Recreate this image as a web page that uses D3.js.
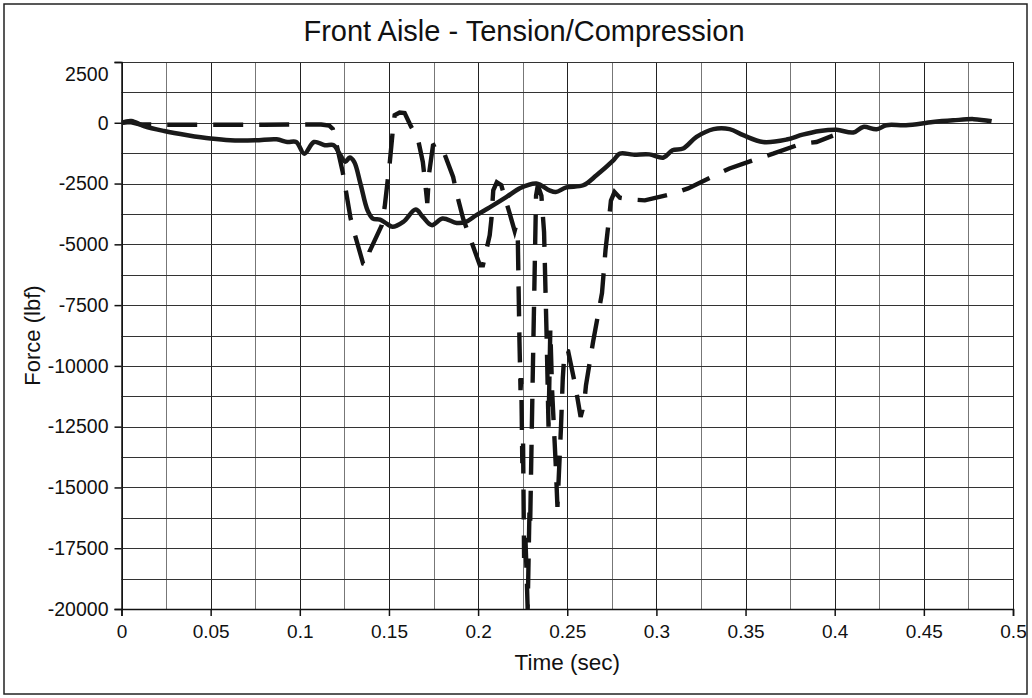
<!DOCTYPE html>
<html>
<head>
<meta charset="utf-8">
<script src="https://cdn.jsdelivr.net/npm/d3@7"></script>
<style>
  html, body { margin: 0; padding: 0; background: #fff; }
  svg { display: block; }
  text { font-family: Arial, "Liberation Sans", Helvetica, sans-serif; fill: #111; }
</style>
</head>
<body>
<svg id="chart" width="1032" height="698"></svg>
<script>
// ---------- data ----------
const chartTitle = "Front Aisle - Tension/Compression";
const xTitle = "Time (sec)";
const yTitle = "Force (lbf)";

const xTickValues = [0, 0.05, 0.1, 0.15, 0.2, 0.25, 0.3, 0.35, 0.4, 0.45, 0.5];
const xTickLabels = ["0", "0.05", "0.1", "0.15", "0.2", "0.25", "0.3", "0.35", "0.4", "0.45", "0.5"];
const yTickValues = [2500, 0, -2500, -5000, -7500, -10000, -12500, -15000, -17500, -20000];
const yTickLabels = ["2500", "0", "-2500", "-5000", "-7500", "-10000", "-12500", "-15000", "-17500", "-20000"];

// solid series
const timeSolid = [0, 0.0055, 0.013, 0.024, 0.037, 0.05, 0.061, 0.075, 0.087, 0.093, 0.098, 0.1025, 0.108,
  0.114, 0.119, 0.1225, 0.1255, 0.128, 0.1305, 0.134, 0.138, 0.141, 0.145, 0.1487, 0.152, 0.158, 0.165,
  0.169, 0.174, 0.18, 0.188, 0.193, 0.199, 0.2065, 0.216, 0.2233, 0.2327, 0.24, 0.2435, 0.2495, 0.259,
  0.2664, 0.2757, 0.2795, 0.287, 0.296, 0.304, 0.309, 0.315, 0.3225, 0.332, 0.341, 0.3487, 0.3598, 0.373,
  0.382, 0.3917, 0.401, 0.4104, 0.416, 0.4235, 0.429, 0.44, 0.455, 0.4665, 0.478, 0.488];
const forceSolid = [0, 70, -150, -340, -510, -650, -720, -720, -680, -790, -790, -1270, -790,
  -925, -925, -1300, -1600, -1430, -1610, -2500, -3600, -3940, -3980, -4150, -4280, -4080, -3570,
  -3870, -4210, -3940, -4120, -4080, -3800, -3480, -3050, -2700, -2500, -2780, -2850, -2660, -2570,
  -2160, -1560, -1270, -1310, -1300, -1430, -1130, -1060, -580, -260, -260, -510, -790, -690,
  -490, -340, -290, -400, -170, -270, -100, -100, 30, 100, 150, 60];

// dashed series
const timeDashed = [0, 0.005, 0.01, 0.02, 0.05, 0.08, 0.1, 0.112, 0.1165, 0.1185, 0.12, 0.124, 0.1285,
  0.131, 0.1355, 0.1375, 0.139, 0.146, 0.1476, 0.1505, 0.152, 0.1532, 0.156, 0.1588, 0.1625, 0.166, 0.169,
  0.1705, 0.1715, 0.1725, 0.1747, 0.177, 0.18, 0.186, 0.188, 0.1916, 0.1953, 0.201, 0.2027, 0.2065, 0.2075,
  0.2085, 0.2105, 0.213, 0.2177, 0.2205, 0.2212, 0.2222, 0.2232, 0.2238, 0.2242, 0.2248, 0.2252, 0.2258,
  0.2265, 0.2272, 0.2278, 0.2288, 0.2292, 0.2305, 0.2315, 0.2325, 0.2335, 0.2355, 0.237, 0.2385, 0.2395,
  0.2405, 0.2415, 0.2435, 0.2445, 0.2465, 0.2475, 0.2485, 0.2505, 0.2545, 0.2575, 0.2595, 0.2605, 0.2645,
  0.2695, 0.2715, 0.2735, 0.2745, 0.2765, 0.2795, 0.285, 0.2935, 0.3095, 0.3178, 0.3328, 0.341, 0.357,
  0.3655, 0.3814, 0.3898, 0.399];
const forceDashed = [0, 30, -60, -80, -80, -80, -70, -70, -120, -250, -700, -2000, -3940,
  -4630, -5790, -5850, -5310, -4210, -3460, -1600, -440, 310, 420, 400, -170, -580, -1610,
  -2600, -3300, -2090, -930, -850, -1060, -2230, -2910, -3940, -4700, -5860, -5860, -4630, -3940,
  -2780, -2450, -2570, -3730, -4450, -4250, -4450, -9000, -11000, -10500, -14000, -13000, -17900,
  -17000, -18500, -20000, -16000, -16500, -11000, -7000, -3000, -2570, -3000, -4500, -9000, -12500,
  -8500, -11000, -14000, -15800, -12500, -10500, -9350, -9400, -10800, -12100, -11550, -10800, -9000,
  -7000, -5200, -3900, -3200, -2850, -3080, -3150, -3190, -2910, -2700, -2160, -1880, -1470,
  -1270, -860, -790, -530];

// ---------- layout ----------
const svg = d3.select("#chart");
const W = 1032, H = 698;
const plot = { left: 121.5, right: 1013, top: 62, bottom: 609 };

const x = d3.scaleLinear().domain([0, 0.5]).range([plot.left, plot.right]);
const y = d3.scaleLinear().domain([-20000, 2500]).range([plot.bottom, plot.top]);

svg.append("rect").attr("width", W).attr("height", H).attr("fill", "#fff");
svg.append("rect")
  .attr("x", 4).attr("y", 4).attr("width", 1023).attr("height", 690)
  .attr("fill", "none").attr("stroke", "#222").attr("stroke-width", 1.5);

// grid
const xGrid = d3.range(0, 21).map(i => i * 0.025);
const yGrid = d3.range(0, 19).map(i => 2500 - i * 1250);
const grid = svg.append("g");
grid.selectAll("line.vx").data(xGrid).join("line")
  .attr("x1", d => Math.round(x(d)) + 0.5).attr("x2", d => Math.round(x(d)) + 0.5)
  .attr("y1", plot.top).attr("y2", plot.bottom)
  .attr("stroke", (d, i) => i % 2 === 0 ? "#222" : "#777").attr("stroke-width", 1);
grid.selectAll("line.hy").data(yGrid).join("line")
  .attr("y1", d => Math.round(y(d)) + 0.5).attr("y2", d => Math.round(y(d)) + 0.5)
  .attr("x1", plot.left).attr("x2", plot.right)
  .attr("stroke", "#333").attr("stroke-width", 1);

// axes
const xAxis = d3.axisBottom(x).tickValues(xTickValues)
  .tickFormat((d, i) => xTickLabels[i]).tickSize(7).tickPadding(9);
const yAxis = d3.axisLeft(y).tickValues(yTickValues)
  .tickFormat((d, i) => yTickLabels[i]).tickSize(7).tickPadding(6);

const gx = svg.append("g").attr("transform", `translate(0,${plot.bottom})`).call(xAxis);
const gy = svg.append("g").attr("transform", `translate(${plot.left},0)`).call(yAxis);
[gx, gy].forEach(g => {
  g.select(".domain").attr("stroke", "#111").attr("stroke-width", 1.5);
  g.selectAll(".tick line").attr("stroke", "#111").attr("stroke-width", 1.5);
  g.selectAll(".tick text").attr("font-size", 19).attr("fill", "#111")
    .attr("font-family", "Arial, 'Liberation Sans', sans-serif");
});
gy.selectAll(".tick text").attr("font-size", 19.5);
gy.selectAll(".tick text").filter((d) => d === 2500).attr("dy", "0.95em");

// clip
svg.append("clipPath").attr("id", "clip").append("rect")
  .attr("x", plot.left).attr("y", plot.top - 5)
  .attr("width", plot.right - plot.left).attr("height", plot.bottom - plot.top + 5);

const solidData = timeSolid.map((t, i) => [t, forceSolid[i]]);
const dashedData = timeDashed.map((t, i) => [t, forceDashed[i]]);

const lineSmooth = d3.line().x(d => x(d[0])).y(d => y(d[1])).curve(d3.curveCatmullRom.alpha(0.5));
const lineSharp = d3.line().x(d => x(d[0])).y(d => y(d[1])).curve(d3.curveLinear);

const series = svg.append("g").attr("clip-path", "url(#clip)");
series.append("path").datum(dashedData)
  .attr("d", lineSharp).attr("fill", "none")
  .attr("stroke", "#141414").attr("stroke-width", 4.4)
  .attr("stroke-dasharray", "30,16").attr("stroke-linejoin", "miter");
series.append("path").datum(solidData)
  .attr("d", lineSmooth).attr("fill", "none")
  .attr("stroke", "#1a1a1a").attr("stroke-width", 4.5).attr("stroke-linejoin", "round");

// titles
svg.append("text").attr("x", 524).attr("y", 41).attr("text-anchor", "middle")
  .attr("font-size", 29).text(chartTitle);
svg.append("text").attr("x", (plot.left + plot.right) / 2).attr("y", 670).attr("text-anchor", "middle")
  .attr("font-size", 22.5).text(xTitle);
svg.append("text").attr("transform", `translate(40,${(plot.top + plot.bottom) / 2}) rotate(-90)`)
  .attr("text-anchor", "middle").attr("font-size", 22).text(yTitle);
</script>
</body>
</html>
